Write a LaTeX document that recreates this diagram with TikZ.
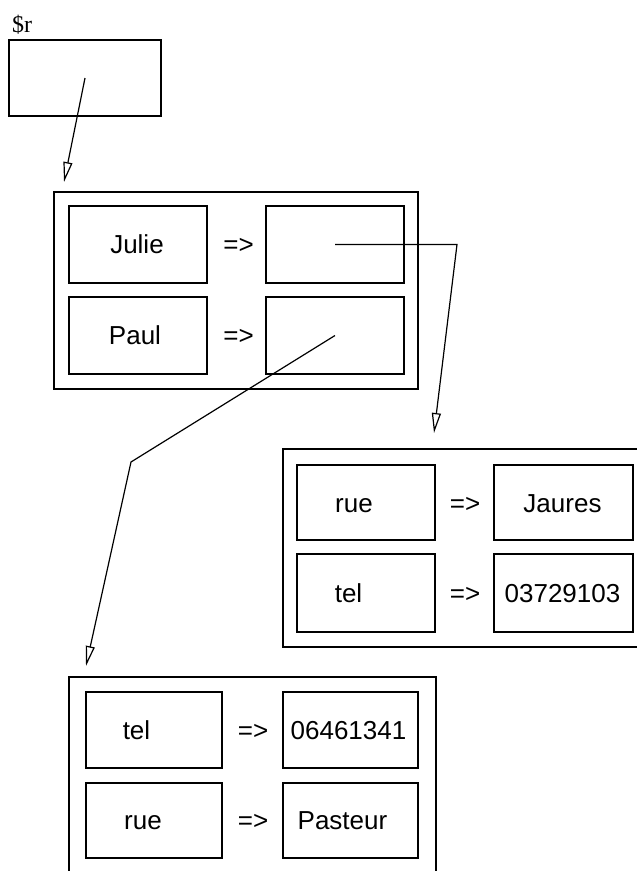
\documentclass[tikz,border=0pt]{standalone}
\usepackage{fontspec}
\setmainfont{Liberation Sans}
\newfontfamily\labelserif{Liberation Serif}
\usetikzlibrary{arrows.meta}
\begin{document}
\begin{tikzpicture}[x=1pt,y=-1pt,
  box/.style={draw, line width=1.4pt, inner sep=0pt, rectangle},
  txt/.style={font=\fontsize{26}{30}\selectfont, inner sep=0pt, anchor=base},
  link/.style={line width=1.2pt, -{Triangle[open,length=20pt,width=9pt,line width=1.2pt]}},
]
\useasboundingbox (0,0) rectangle (637,871);
\clip (0,0) rectangle (637,871);

% $r variable
\node[font=\labelserif\fontsize{24}{28}\selectfont, inner sep=0pt, anchor=base] (rlabel) at (22,32) {\$r};
\node[box, minimum width=152pt, minimum height=76pt] (r) at (85,78) {};

% hash 1
\node[box, minimum width=364pt, minimum height=197pt] (h1) at (236,290.5) {};
\node[box, minimum width=138pt, minimum height=77pt] (jk) at (138,244.5) {};
\node[box, minimum width=138pt, minimum height=77pt] (jv) at (335,244.5) {};
\node[box, minimum width=138pt, minimum height=77pt] (pk) at (138,335.5) {};
\node[box, minimum width=138pt, minimum height=77pt] (pv) at (335,335.5) {};
\node[txt] (tj) at (137,253) {Julie};
\node[txt] (tp) at (135,344) {Paul};
\node[txt] (a1) at (238.5,253) {=>};
\node[txt] (a2) at (238.5,344) {=>};

% hash 2
\node[box, minimum width=377pt, minimum height=198pt] (h2) at (471.5,548) {};
\node[box, minimum width=138pt, minimum height=75pt] (rk) at (366,502.5) {};
\node[box, minimum width=139pt, minimum height=75pt] (rv) at (563.5,502.5) {};
\node[box, minimum width=138pt, minimum height=78pt] (tk) at (366,593) {};
\node[box, minimum width=139pt, minimum height=78pt] (tv) at (563.5,593) {};
\node[txt] (trk) at (354,512) {rue};
\node[txt] (trv) at (562.5,512) {Jaures};
\node[txt] (ttk) at (348.5,602) {tel};
\node[txt] (ttv) at (562.5,602) {03729103};
\node[txt] (a3) at (465,512) {=>};
\node[txt] (a4) at (465,602) {=>};

% hash 3
\node[box, minimum width=367pt, minimum height=223pt] (h3) at (252.5,788.5) {};
\node[box, minimum width=136pt, minimum height=76pt] (tk3) at (154,730) {};
\node[box, minimum width=135pt, minimum height=76pt] (tv3) at (350.5,730) {};
\node[box, minimum width=136pt, minimum height=75pt] (rk3) at (154,820.5) {};
\node[box, minimum width=135pt, minimum height=75pt] (rv3) at (350.5,820.5) {};
\node[txt] (ttk3) at (136.5,739) {tel};
\node[txt] (ttv3) at (348.5,739) {06461341};
\node[txt] (trk3) at (143,829) {rue};
\node[txt] (trv3) at (342.5,829) {Pasteur};
\node[txt] (a5) at (253,739) {=>};
\node[txt] (a6) at (253,829) {=>};

% connectors
\coordinate (tip1) at (64,182);
\coordinate (bend1) at (457,244.5);
\coordinate (tip2) at (434,433);
\coordinate (bend2) at (131,462);
\coordinate (tip3) at (86,666);
\draw[link] (r.center) -- (tip1);
\draw[link] (jv.center) -- (bend1) -- (tip2);
\draw[link] (pv.center) -- (bend2) -- (tip3);
\end{tikzpicture}
\end{document}
